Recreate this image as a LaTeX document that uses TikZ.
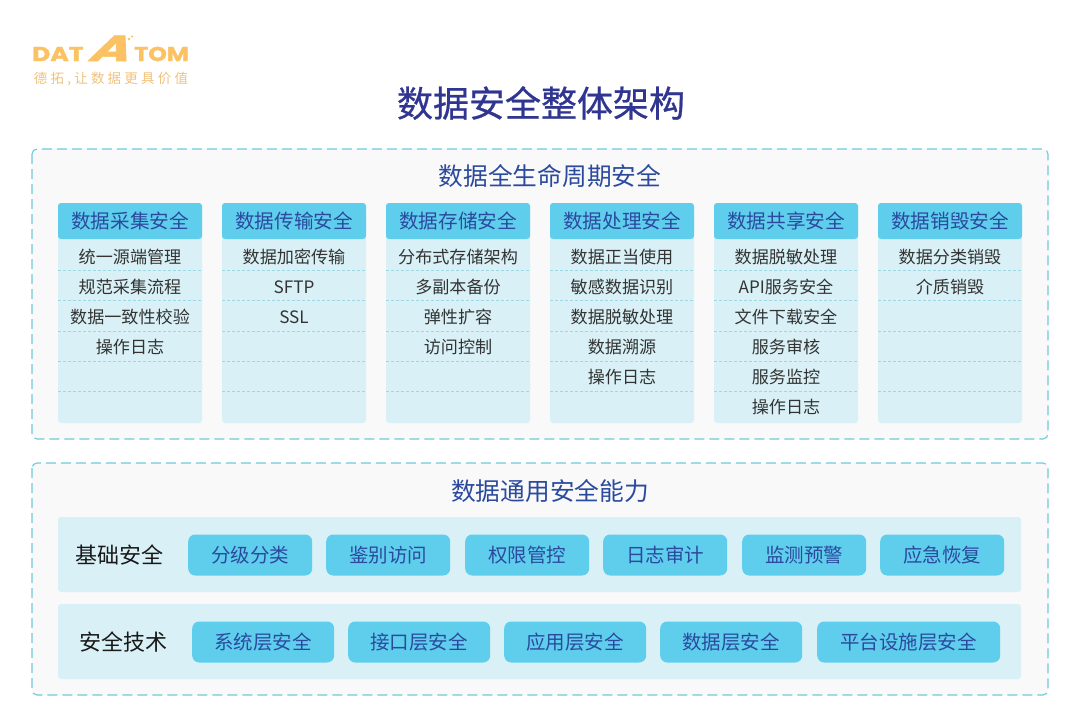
\documentclass[tikz,border=0pt]{standalone}
\usepackage{fontspec}
\usepackage{xcolor}
\setmainfont{Noto Sans CJK SC}
\newfontfamily\logofont{Poppins}[BoldFont=* Bold,BoldFeatures={FakeBold=1.5}]
\newfontfamily\titlefont{Noto Sans CJK SC}[FakeBold=0.7]
\definecolor{framecol}{HTML}{6FC9DA}
\definecolor{panelcol}{HTML}{F9F9F9}
\definecolor{palecol}{HTML}{D9F1F6}
\definecolor{skycol}{HTML}{5ECEEC}
\definecolor{inkcol}{HTML}{2B4A9E}
\definecolor{titlecol}{HTML}{2F3590}
\definecolor{logocol}{HTML}{FBC264}
\tikzset{
    outerbox/.style={draw=framecol,fill=panelcol,line width=1.1pt,dash pattern=on 10pt off 5pt,rounded corners=5pt},
    palebox/.style={fill=palecol,rounded corners=3pt},
    skybox/.style={fill=skycol,rounded corners=7pt,inner sep=0pt,text=inkcol,font=\fontsize{19.5}{22}\selectfont,minimum height=41pt},
    headtext/.style={text=inkcol,font=\fontsize{19.6}{22}\selectfont,inner sep=0pt},
    rowtext/.style={text=black!80,font=\fontsize{17.1}{20}\selectfont,inner sep=0pt},
    sidetext/.style={text=black!90,font=\fontsize{22}{24}\selectfont,inner sep=0pt},
    secttext/.style={text=inkcol,font=\fontsize{24.7}{28}\selectfont,inner sep=0pt},
    logotext/.style={text=logocol,inner sep=0pt},
}
\begin{document}
\begin{tikzpicture}[x=1pt,y=-1pt]
    \useasboundingbox (0,0) rectangle (1080,728);
    % logo
    \node[logotext,font=\logofont\bfseries\fontsize{20}{24}\selectfont,anchor=base west] (logoa) at (32,61) {\scalebox{1.25}[1]{DAT}};
    \node[logotext,font=\logofont\bfseries\fontsize{36}{38}\selectfont,anchor=base,transform shape,xslant=0.5] (logob) at (107,61) {\scalebox{1.5}[1]{A}};
    \node[logotext,font=\logofont\bfseries\fontsize{20}{24}\selectfont,anchor=base east] (logoc) at (189,61) {\scalebox{1.19}[1]{TOM}};
    \fill[logocol] (129,39) circle (1.3pt) (132,36.5) circle (1.1pt);
    \node[text=logocol!75!brown!80!white,font=\fontsize{13.5}{15}\selectfont\addfontfeatures{LetterSpace=24},inner sep=0pt] (slogan) at (111,79) {德拓,让数据更具价值};
    \node[text=titlecol,font=\titlefont\fontsize{36}{40}\selectfont,inner sep=0pt] (title) at (541,103) {数据安全整体架构};
    % life cycle
    \draw[outerbox] (32,149) rectangle (1048,439);
    \node[secttext] (cycle) at (550,176) {数据全生命周期安全};
    \foreach \x/\head/\items in {
        58/数据采集安全/{统一源端管理,规范采集流程,数据一致性校验,操作日志},
        222/数据传输安全/{数据加密传输,SFTP,SSL},
        386/数据存储安全/{分布式存储架构,多副本备份,弹性扩容,访问控制},
        550/数据处理安全/{数据正当使用,敏感数据识别,数据脱敏处理,数据溯源,操作日志},
        714/数据共享安全/{数据脱敏处理,API服务安全,文件下载安全,服务审核,服务监控,操作日志},
        878/数据销毁安全/{数据分类销毁,介质销毁}}{
        \fill[palebox] (\x,210) rectangle ++(144,213);
        \fill[skycol,rounded corners=3pt] (\x,239) -- (\x,203) -- ++(144,0) -- ++(0,36) -- cycle;
        \node[headtext] (head\x) at (\x+72,221) {\head};
        \foreach \y in {270,300,331,361,391}{
            \draw[framecol!70,densely dashed,line width=0.35pt] (\x,\y) -- ++(144,0);
        }
        \foreach \t [count=\i from 0] in \items {
            \node[rowtext] (row\x-\i) at (\x+72,256.8+30*\i) {\t};
        }
    }
    % common abilities
    \draw[outerbox] (32,463) rectangle (1048,695);
    \node[secttext] (common) at (550,491) {数据通用安全能力};
    \fill[palebox] (58,517) rectangle (1021,592);
    \fill[palebox] (58,604) rectangle (1021,679);
    \node[sidetext] (basic) at (119,555) {基础安全};
    \node[sidetext] (tech) at (123,642) {安全技术};
    \foreach \x/\t in {188/分级分类,326/鉴别访问,465/权限管控,603/日志审计,742/监测预警,880/应急恢复}{
        \node[skybox,minimum width=124pt,anchor=west] (base\x) at (\x,555) {\t};
    }
    \foreach \x/\w/\t in {192/142/系统层安全,348/142/接口层安全,504/142/应用层安全,660/142/数据层安全,817/183/平台设施层安全}{
        \node[skybox,minimum width=\w pt,anchor=west] (tech\x) at (\x,642) {\t};
    }
\end{tikzpicture}
\end{document}
